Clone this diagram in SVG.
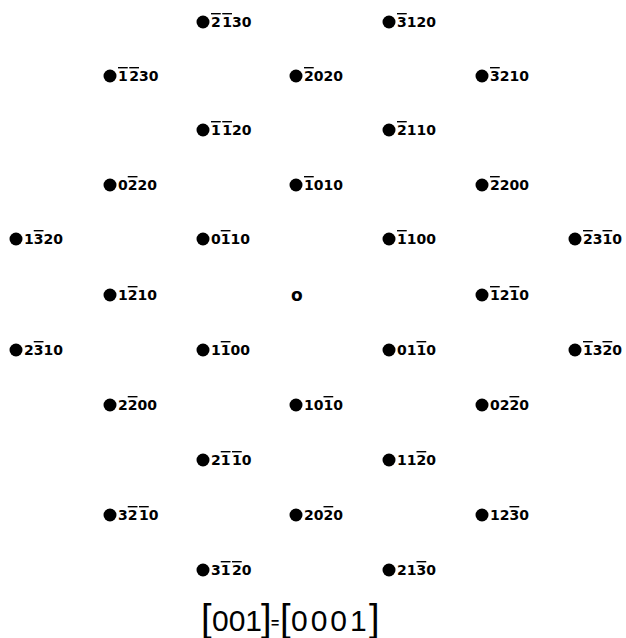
<svg xmlns="http://www.w3.org/2000/svg" width="626" height="638" viewBox="0 0 626 638">
<style>
.dot{fill:#000}
.lbl{font-family:"DejaVu Sans","Liberation Sans",sans-serif;font-weight:bold;font-size:14px;fill:#000}
.ob{text-decoration:overline}
.org{font-family:"DejaVu Sans",sans-serif;font-weight:bold;font-size:17px;fill:#000}
.ax{font-family:"Liberation Sans",sans-serif;font-size:30px;fill:#000}
.br{font-size:38px}
.eq{font-size:14px;font-weight:bold}
</style>
<rect width="626" height="638" fill="#fff"/>
<g id="nodes">
<g id="n-m2m130"><circle class="dot" cx="203" cy="22" r="6.5"/><text class="lbl" x="211" y="27"><tspan class="ob">2</tspan><tspan class="ob" dx="1.5">1</tspan>30</text></g>
<g id="n-m3120"><circle class="dot" cx="389" cy="22" r="6.5"/><text class="lbl" x="397" y="27"><tspan class="ob">3</tspan>120</text></g>

<g id="n-m1m230"><circle class="dot" cx="110" cy="76" r="6.5"/><text class="lbl" x="118" y="81"><tspan class="ob">1</tspan><tspan class="ob" dx="1.5">2</tspan>30</text></g>
<g id="n-m2020"><circle class="dot" cx="296" cy="76" r="6.5"/><text class="lbl" x="304" y="81"><tspan class="ob">2</tspan>020</text></g>
<g id="n-m3210"><circle class="dot" cx="482" cy="76" r="6.5"/><text class="lbl" x="490" y="81"><tspan class="ob">3</tspan>210</text></g>

<g id="n-m1m120"><circle class="dot" cx="203" cy="130" r="6.5"/><text class="lbl" x="211" y="135"><tspan class="ob">1</tspan><tspan class="ob" dx="1.5">1</tspan>20</text></g>
<g id="n-m2110"><circle class="dot" cx="389" cy="130" r="6.5"/><text class="lbl" x="397" y="135"><tspan class="ob">2</tspan>110</text></g>

<g id="n-0m220"><circle class="dot" cx="110" cy="185" r="6.5"/><text class="lbl" x="118" y="190">0<tspan class="ob">2</tspan>20</text></g>
<g id="n-m1010"><circle class="dot" cx="296" cy="185" r="6.5"/><text class="lbl" x="304" y="190"><tspan class="ob">1</tspan>010</text></g>
<g id="n-m2200"><circle class="dot" cx="482" cy="185" r="6.5"/><text class="lbl" x="490" y="190"><tspan class="ob">2</tspan>200</text></g>

<g id="n-1m320"><circle class="dot" cx="16" cy="239" r="6.5"/><text class="lbl" x="24" y="244">1<tspan class="ob">3</tspan>20</text></g>
<g id="n-0m110"><circle class="dot" cx="203" cy="239" r="6.5"/><text class="lbl" x="211" y="244">0<tspan class="ob">1</tspan>10</text></g>
<g id="n-m1100"><circle class="dot" cx="389" cy="239" r="6.5"/><text class="lbl" x="397" y="244"><tspan class="ob">1</tspan>100</text></g>
<g id="n-m23m10"><circle class="dot" cx="575" cy="239" r="6.5"/><text class="lbl" x="583" y="244"><tspan class="ob">2</tspan>3<tspan class="ob">1</tspan>0</text></g>

<g id="n-1m210"><circle class="dot" cx="110" cy="295" r="6.5"/><text class="lbl" x="118" y="300">1<tspan class="ob">2</tspan>10</text></g>
<g id="n-origin"><text class="org" x="291" y="301">o</text></g>
<g id="n-m12m10"><circle class="dot" cx="482" cy="295" r="6.5"/><text class="lbl" x="490" y="300"><tspan class="ob">1</tspan>2<tspan class="ob">1</tspan>0</text></g>

<g id="n-2m310"><circle class="dot" cx="16" cy="350" r="6.5"/><text class="lbl" x="24" y="355">2<tspan class="ob">3</tspan>10</text></g>
<g id="n-1m100"><circle class="dot" cx="203" cy="350" r="6.5"/><text class="lbl" x="211" y="355">1<tspan class="ob">1</tspan>00</text></g>
<g id="n-01m10"><circle class="dot" cx="389" cy="350" r="6.5"/><text class="lbl" x="397" y="355">01<tspan class="ob">1</tspan>0</text></g>
<g id="n-m13m20"><circle class="dot" cx="575" cy="350" r="6.5"/><text class="lbl" x="583" y="355"><tspan class="ob">1</tspan>3<tspan class="ob">2</tspan>0</text></g>

<g id="n-2m200"><circle class="dot" cx="110" cy="405" r="6.5"/><text class="lbl" x="118" y="410">2<tspan class="ob">2</tspan>00</text></g>
<g id="n-10m10"><circle class="dot" cx="296" cy="405" r="6.5"/><text class="lbl" x="304" y="410">10<tspan class="ob">1</tspan>0</text></g>
<g id="n-02m20"><circle class="dot" cx="482" cy="405" r="6.5"/><text class="lbl" x="490" y="410">02<tspan class="ob">2</tspan>0</text></g>

<g id="n-2m1m10"><circle class="dot" cx="203" cy="460" r="6.5"/><text class="lbl" x="211" y="465">2<tspan class="ob">1</tspan><tspan class="ob" dx="1.5">1</tspan>0</text></g>
<g id="n-11m20"><circle class="dot" cx="389" cy="460" r="6.5"/><text class="lbl" x="397" y="465">11<tspan class="ob">2</tspan>0</text></g>

<g id="n-3m2m10"><circle class="dot" cx="110" cy="515" r="6.5"/><text class="lbl" x="118" y="520">3<tspan class="ob">2</tspan><tspan class="ob" dx="1.5">1</tspan>0</text></g>
<g id="n-20m20"><circle class="dot" cx="296" cy="515" r="6.5"/><text class="lbl" x="304" y="520">20<tspan class="ob">2</tspan>0</text></g>
<g id="n-12m30"><circle class="dot" cx="482" cy="515" r="6.5"/><text class="lbl" x="490" y="520">12<tspan class="ob">3</tspan>0</text></g>

<g id="n-3m1m20"><circle class="dot" cx="203" cy="570" r="6.5"/><text class="lbl" x="211" y="575">3<tspan class="ob">1</tspan><tspan class="ob" dx="1.5">2</tspan>0</text></g>
<g id="n-21m30"><circle class="dot" cx="389" cy="570" r="6.5"/><text class="lbl" x="397" y="575">21<tspan class="ob">3</tspan>0</text></g>
</g>
<g id="caption">
<text class="ax" y="631"><tspan class="br" x="201">[</tspan><tspan x="212">001</tspan><tspan class="br" x="261">]</tspan><tspan class="eq" x="271" y="628">=</tspan><tspan class="br" x="280" y="631">[</tspan><tspan x="291" letter-spacing="3">0001</tspan><tspan class="br" x="369">]</tspan></text>
</g>
</svg>
